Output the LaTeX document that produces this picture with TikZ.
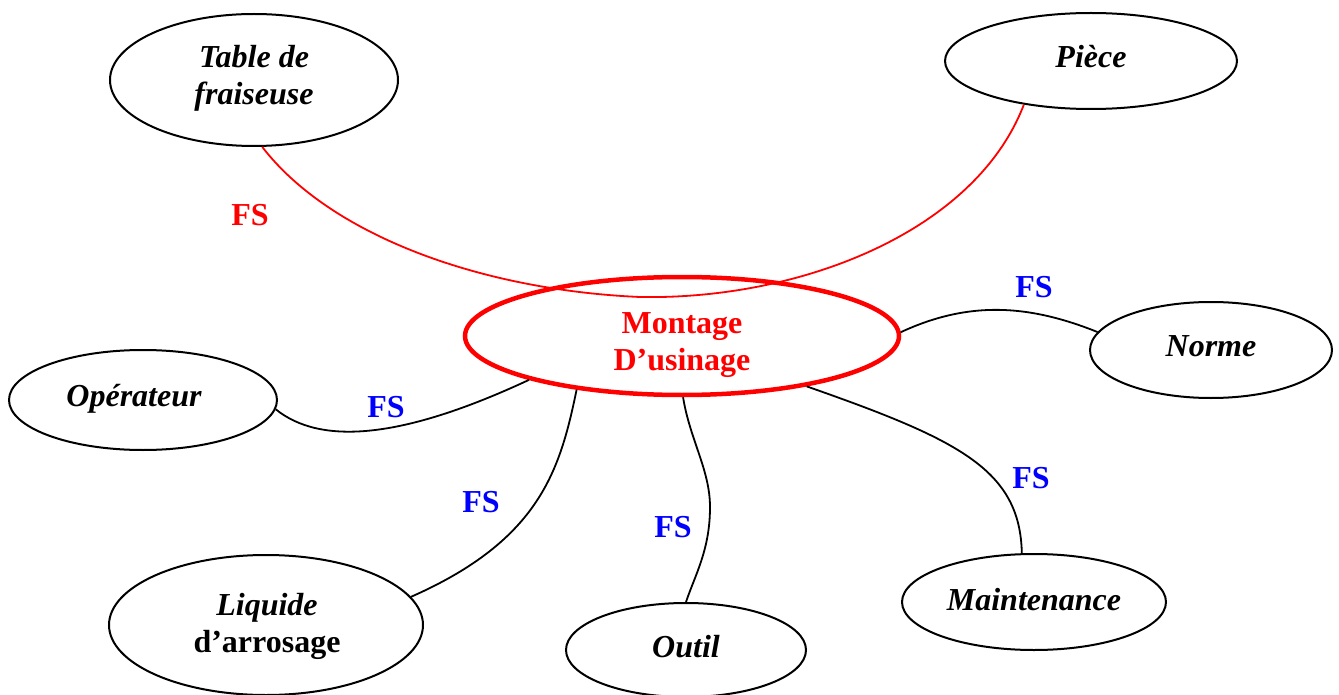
\documentclass[tikz,border=0pt]{standalone}
\usepackage{fontspec}
\setmainfont{Liberation Serif}
\usetikzlibrary{shapes.geometric}
\definecolor{fsred}{RGB}{255,0,0}
\definecolor{fsblue}{RGB}{0,0,255}
\tikzset{
  elt/.style={ellipse, draw=black, line width=2pt, inner sep=0pt},
  main/.style={ellipse, draw=fsred, line width=4.5pt, inner sep=0pt},
  lbl/.style={inner sep=0pt, align=center,
    font=\fontsize{32}{37}\selectfont\bfseries\itshape},
  mainlbl/.style={inner sep=0pt, align=center, text=fsred,
    font=\fontsize{32}{37}\selectfont\bfseries},
  link/.style={draw=black, line width=1.8pt},
  redlink/.style={draw=fsred, line width=1.8pt},
  fs/.style={font=\fontsize{32}{37}\selectfont\bfseries, text=fsblue, inner sep=0pt},
  fsr/.style={fs, text=fsred}
}
\begin{document}
\begin{tikzpicture}[x=1pt,y=-1pt]
\useasboundingbox (0,0) rectangle (1339,695);
% ellipses
\node[main, minimum width=434pt, minimum height=118pt] (mont) at (682,336) {};
\node[elt, minimum width=288pt, minimum height=132pt] (table) at (254,80) {};
\node[elt, minimum width=292pt, minimum height=96pt] (piece) at (1091,61) {};
\node[elt, minimum width=242pt, minimum height=96pt] (norme) at (1211,350) {};
\node[elt, minimum width=268pt, minimum height=100pt] (oper) at (143,400) {};
\node[elt, minimum width=314pt, minimum height=140pt] (liq) at (266,625) {};
\node[elt, minimum width=240pt, minimum height=94pt] (outil) at (686,650) {};
\node[elt, minimum width=264pt, minimum height=96pt] (maint) at (1034,602) {};
% texts
\node[mainlbl] (mont-t) at (682,345) {Montage\\D’usinage};
\node[lbl] (table-t) at (254,78) {Table de\\fraiseuse};
\node[lbl] (piece-t) at (1091,57) {Pièce};
\node[lbl] (norme-t) at (1211,346) {Norme};
\node[lbl] (oper-t) at (134,399) {Opérateur};
\node[lbl] (liq-t) at (267,626) {Liquide\\\upshape d’arrosage};
\node[lbl] (outil-t) at (686,647) {Outil};
\node[lbl] (maint-t) at (1034,600) {Maintenance};
% connectors
\draw[redlink] (table.277) .. controls (330,235) and (480,290) .. (640,297)
  .. controls (800,300) and (975,232) .. (piece.213);
\draw[link] (mont.1) .. controls (970,300) and (1030,305) .. (norme.171);
\draw[link] (oper.-4) .. controls (320,445) and (400,440) .. (mont.196);
\draw[link] (mont.207) .. controls (560,470) and (540,540) .. (liq.11);
\draw[link] (mont.271) .. controls (690,440) and (710,470) .. (710,507)
  .. controls (710,550) and (695,575) .. (outil.90);
\draw[link] (mont.338) .. controls (960,440) and (1020,470) .. (maint.104);
% labels
\node[fsr] (fs1) at (250,215) {FS};
\node[fs] (fs2) at (1034,287) {FS};
\node[fs] (fs3) at (386,407) {FS};
\node[fs] (fs4) at (481,502) {FS};
\node[fs] (fs5) at (673,527) {FS};
\node[fs] (fs6) at (1031,478) {FS};
\end{tikzpicture}
\end{document}
